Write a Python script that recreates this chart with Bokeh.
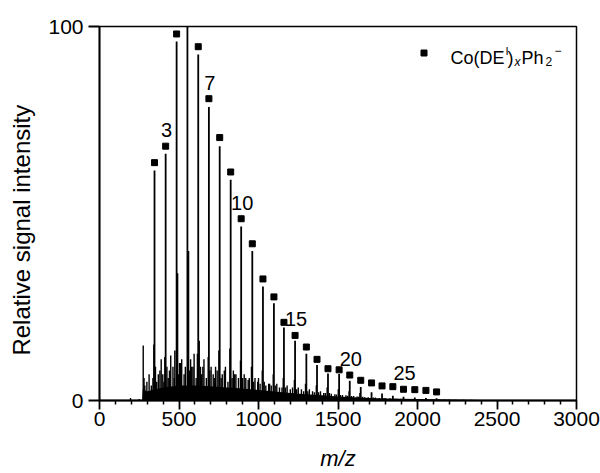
from bokeh.plotting import figure
from bokeh.models import Range1d, FixedTicker, Label, Legend, LegendItem, ColumnDataSource
from bokeh.core.properties import value
from bokeh.embed import file_html
from bokeh.resources import INLINE

FONT = "Liberation Sans"

# Co(DE^I)_x Ph2^- cluster series: cluster size x, m/z and relative intensity
cluster_n = [2, 3, 4, 5, 6, 7, 8, 9, 10, 11, 12, 13, 14, 15, 16, 17, 18, 19, 20,
             21, 22, 23, 24, 25, 26, 27, 28]
cluster_mz = [346, 416, 485, 553, 621, 688, 756, 825, 891, 961, 1028, 1097, 1160,
              1230, 1301, 1368, 1437, 1507, 1574, 1643, 1711, 1777, 1845, 1912,
              1983, 2053, 2120]
peak_int = [61.5, 66.0, 96.0, 100.0, 92.5, 78.5, 68.0, 59.0, 46.5, 40.0, 30.5, 26.0,
            19.5, 16.0, 12.5, 9.5, 7.2, 7.1, 5.3, 3.6, 2.2, 1.9, 1.3, 1.0, 0.8, 0.7, 0.6]

# square markers of the assigned series (x = 5 sits at the top edge, off scale)
marker_n = [2, 3, 4, 6, 7, 8, 9, 10, 11, 12, 13, 14, 15, 16, 17, 18, 19, 20, 21,
            22, 23, 24, 25, 26, 27, 28]
marker_int = [63.6, 68.0, 98.0, 94.6, 80.7, 70.3, 61.1, 48.6, 41.9, 32.5, 27.7, 20.9,
              17.4, 14.3, 11.0, 8.5, 8.2, 6.8, 5.4, 4.7, 3.9, 3.7, 3.0, 2.9, 2.7, 2.3]

# satellite peaks next to the main series
sat_mz = [342, 411, 474, 491, 560, 616, 627, 684, 751, 820, 887, 956, 1024, 1093,
          1156, 1226, 1296, 1364, 1432, 1502, 1570, 1638]
sat_int = [15.0, 11.6, 13.4, 34.0, 40.0, 12.5, 16.0, 11.6, 13.4, 13.9, 10.7, 9.0, 8.0,
           7.0, 6.0, 5.5, 4.5, 4.0, 3.5, 3.0, 2.5, 2.0]

# other minor peaks
minor_mz = [195, 250, 275, 280, 285, 298, 312, 326, 336, 352, 360, 370, 380, 388, 398,
            405, 424, 432, 440, 448, 462, 470, 496, 503, 510, 517, 532, 540, 566, 573,
            580, 588, 595, 608, 635, 642, 650, 657, 672, 694, 702, 715, 722, 730, 740,
            765, 772, 785, 792, 808, 834, 842, 850, 858, 874, 900, 910, 920, 935, 942,
            970, 978, 995, 1000, 1010, 1036, 1046, 1064, 1070, 1080, 1105, 1115, 1132,
            1148, 1170, 1180, 1200, 1214, 1240, 1250, 1270, 1284, 1310, 1320, 1340,
            1352, 1378, 1390, 1410, 1420, 1446, 1458, 1480, 1490, 1515, 1528, 1550,
            1560, 1585, 1598, 1620, 1630, 1655, 1668, 1690, 1722, 1735, 1760, 1790,
            1800, 1828, 1858, 1870, 1895, 1925, 1960, 1995, 2030, 2065, 2100, 2135,
            2170, 2200, 2240, 2290, 2340, 2390, 2450]
minor_int = [0.7, 0.4, 14.7, 6.0, 4.0, 5.0, 7.0, 4.0, 6.0, 9.0, 5.0, 7.0, 8.0, 11.0,
             7.0, 5.0, 9.0, 6.0, 8.0, 12.0, 9.0, 6.0, 7.0, 10.0, 10.0, 11.0, 7.0, 9.0,
             8.0, 11.0, 9.0, 9.0, 12.5, 6.0, 9.0, 7.0, 9.0, 11.0, 6.0, 8.0, 9.0, 7.0,
             6.0, 9.0, 8.0, 6.0, 7.0, 8.0, 9.0, 5.0, 6.0, 8.0, 7.0, 7.0, 6.0, 6.0, 7.0,
             6.0, 5.5, 6.0, 5.0, 6.0, 5.0, 6.0, 4.5, 5.0, 4.0, 4.5, 4.5, 4.0, 4.0, 4.5,
             3.5, 3.5, 3.5, 4.0, 3.0, 3.5, 3.0, 3.5, 3.0, 2.5, 2.5, 3.0, 2.5, 2.2, 2.2,
             2.5, 2.0, 2.0, 2.0, 1.8, 1.7, 1.6, 1.5, 1.5, 1.4, 1.3, 1.2, 1.2, 1.1, 1.0,
             1.0, 0.9, 0.9, 0.8, 0.8, 0.7, 0.7, 0.6, 0.6, 0.5, 0.5, 0.45, 0.4, 0.4,
             0.35, 0.35, 0.3, 0.3, 0.25, 0.25, 0.2, 0.2, 0.2, 0.18, 0.15, 0.12]

# dense unresolved background
noise_mz = [268, 272, 300, 400, 500, 600, 700, 800, 900, 1000, 1100, 1200, 1300, 1400,
            1500, 1600, 1700, 1800, 1900, 2000, 2100, 2200, 2300, 2400, 2500, 2600]
noise_int = [0.0, 3.0, 2.5, 3.5, 4.0, 4.0, 3.8, 3.5, 3.2, 2.8, 2.4, 2.0, 1.7, 1.4,
             1.1, 0.9, 0.7, 0.55, 0.45, 0.38, 0.32, 0.26, 0.2, 0.15, 0.08, 0.0]

x_ticks = [0, 500, 1000, 1500, 2000, 2500, 3000]
x_minor = [100, 200, 300, 400, 600, 700, 800, 900, 1100, 1200, 1300, 1400, 1600, 1700,
           1800, 1900, 2100, 2200, 2300, 2400, 2600, 2700, 2800, 2900]
y_ticks = [0, 100]
label_n = [3, 7, 10, 15, 20, 25]

p = figure(width=600, height=473, output_backend="svg", toolbar_location=None,
           x_range=Range1d(0, 3000), y_range=Range1d(0, 100),
           min_border_left=99, min_border_right=24, min_border_top=26,
           min_border_bottom=73)
p.grid.visible = False
p.outline_line_color = "black"
p.outline_line_width = 1.5
p.outline_line_alpha = 1.0
p.background_fill_color = "white"
p.border_fill_color = "white"

# spectrum
p.varea(x=noise_mz, y1=[0] * len(noise_mz), y2=noise_int, color="black")
p.segment(x0=minor_mz, y0=[0] * len(minor_mz), x1=minor_mz, y1=minor_int,
          line_color="black", line_width=1.4)
p.segment(x0=sat_mz, y0=[0] * len(sat_mz), x1=sat_mz, y1=sat_int,
          line_color="black", line_width=1.5)
p.segment(x0=cluster_mz, y0=[0] * len(cluster_mz), x1=cluster_mz, y1=peak_int,
          line_color="black", line_width=1.8)

mz_of = dict(zip(cluster_n, cluster_mz))
mk_of = dict(zip(marker_n, marker_int))
sq = p.scatter(x=[mz_of[n] for n in marker_n], y=marker_int, marker="square",
               size=6, color="black")

lab_src = ColumnDataSource(dict(x=[mz_of[n] for n in label_n],
                                y=[mk_of[n] for n in label_n],
                                t=[str(n) for n in label_n]))
p.text(x="x", y="y", text="t", source=lab_src, text_align="center",
       text_baseline="middle", x_offset=1, y_offset=-16,
       text_font=value(FONT), text_font_size="20px", text_color="black")

# axes
xa = p.xaxis[0]
xa.ticker = FixedTicker(ticks=x_ticks, minor_ticks=x_minor)
ya = p.yaxis[0]
ya.ticker = FixedTicker(ticks=y_ticks, minor_ticks=[])
for ax in (xa, ya):
    ax.axis_line_width = 1.8
    ax.major_tick_line_width = 1.8
    ax.minor_tick_line_width = 1.5
    ax.major_tick_in = 0
    ax.minor_tick_in = 0
    ax.minor_tick_out = 4
    ax.major_label_text_font = FONT
    ax.major_label_text_font_size = "21px"
    ax.major_label_text_color = "black"
    ax.axis_label_text_font = FONT
    ax.axis_label_text_color = "black"
xa.major_tick_out = 9
xa.major_label_standoff = 2
ya.major_tick_out = 11
ya.major_label_standoff = 5

xa.axis_label = "m/z"
xa.axis_label_text_font_size = "22px"
xa.axis_label_text_font_style = "italic"
xa.axis_label_standoff = 17
# trailing no-break spaces nudge the centred title slightly down, as in the original
ya.axis_label = "Relative signal intensity" + "\u00a0" * 5
ya.axis_label_text_font_size = "24px"
ya.axis_label_text_font_style = "normal"
ya.axis_label_standoff = 10

# legend key (marker) + composed formula text
legend = Legend(items=[LegendItem(label=" ", renderers=[sq])], location=(317, 340),
                padding=0, margin=0, spacing=0, glyph_width=15, glyph_height=15,
                label_standoff=0, label_width=0, label_height=15,
                border_line_alpha=0, background_fill_alpha=0,
                label_text_font_size="2px")
p.add_layout(legend)

LX, LY = 351, 343


def piece(text, dx, dy, size, style="normal"):
    p.add_layout(Label(x=LX + dx, y=LY + dy, x_units="screen", y_units="screen",
                       text=text, text_font=FONT, text_font_size=f"{size}px",
                       text_font_style=style, text_baseline="alphabetic",
                       text_align="left", text_color="black"))


piece("Co(DE", 0, 0, 18)
piece("I", 55, 7, 11)
piece(")", 57, 0, 18)
piece("x", 64, -4, 12, "italic")
piece("Ph", 71, 0, 18)
piece("2", 95, -4, 12)
piece("\u2212", 104, 7, 12)

open("out.html", "w").write(file_html(p, INLINE))
